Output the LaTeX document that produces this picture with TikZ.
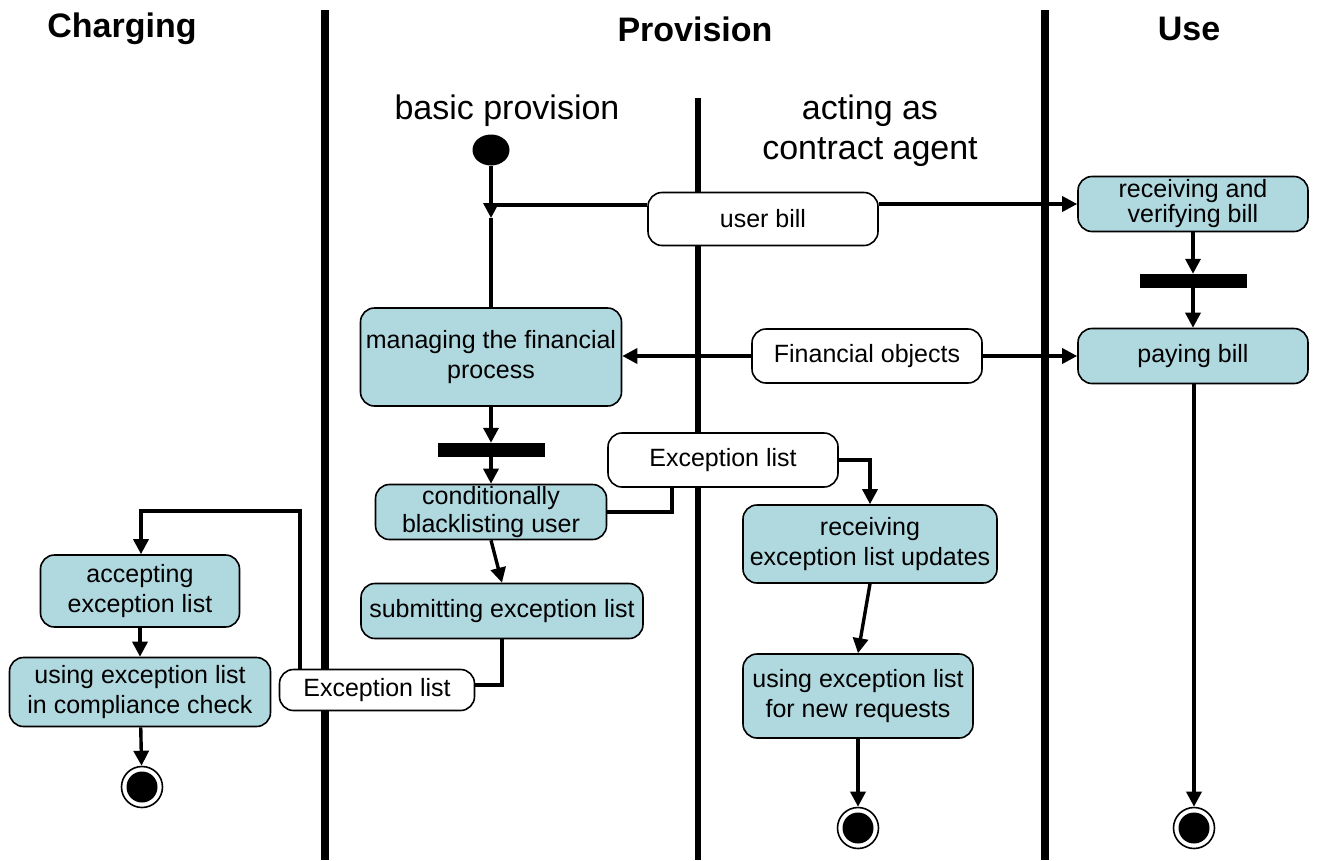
\documentclass[tikz,border=0pt]{standalone}
\usepackage{fontspec}
\setmainfont{Liberation Sans}
\usetikzlibrary{arrows.meta,shapes.geometric,calc}
\definecolor{actblue}{RGB}{176,216,223}
\tikzset{
  act/.style={draw, rounded corners=14pt, fill=actblue, line width=1.6pt, align=center,
    font=\fontsize{25}{30}\selectfont, inner sep=0pt},
  obj/.style={act, fill=white},
  lanebig/.style={line width=8pt},
  lanesmall/.style={line width=6.5pt},
  flow/.style={line width=3.4pt},
  arr/.style={flow, -{Triangle[length=15pt,width=15pt]}},
  initial/.style={ellipse, fill=black, minimum width=37pt, minimum height=31pt, inner sep=0pt},
  final/.style={circle, draw, line width=1.6pt, fill=white, minimum size=41pt, inner sep=0pt,
    path picture={\fill[black] (path picture bounding box.center) circle (15.5pt);}},
  bar/.style={rectangle, fill=black, minimum width=107pt, minimum height=14pt, inner sep=0pt},
  lanehead/.style={font=\fontsize{34}{38}\selectfont\bfseries},
  sublane/.style={font=\fontsize{34}{40}\selectfont, align=center}
}
\begin{document}
\begin{tikzpicture}[x=1pt,y=-1pt]
\useasboundingbox (0,0) rectangle (1318,860);

% swimlane separators
\draw[lanebig] (325,10) -- (325,860);
\draw[lanebig] (1045,10) -- (1045,860);
\draw[lanesmall] (698,98) -- (698,860);

% lane titles
\node[lanehead] (hcharge) at (122,29) {Charging};
\node[lanehead] (hprov) at (695,29) {Provision};
\node[lanehead] (huse) at (1189,29) {Use};
\node[sublane] (hbasic) at (507,111) {basic provision};
\node[sublane] (hagent) at (870,131) {acting as\\contract agent};

% activities and objects
\node[initial] (start) at (491,150) {};
\coordinate (junc) at (491,205);
\coordinate (jtip) at (491,218);
\node[obj, minimum width=230pt, minimum height=53pt] (ubill) at (763,219) {user bill};
\node[act, minimum width=230pt, minimum height=55pt, font=\fontsize{25}{25}\selectfont] (recv) at (1193,204) {receiving and\\verifying bill};
\node[bar] (forkR) at (1193,281) {};
\node[act, minimum width=230pt, minimum height=55pt] (pay) at (1193,356) {paying bill};
\node[act, minimum width=261pt, minimum height=98pt] (manage) at (491,357) {managing the financial\\process};
\node[obj, minimum width=230pt, minimum height=54pt] (fin) at (867,356) {Financial objects};
\node[bar] (forkL) at (491,450) {};
\node[act, minimum width=231pt, minimum height=55pt, font=\fontsize{25}{28}\selectfont] (black) at (491,512) {conditionally\\blacklisting user};
\node[obj, minimum width=230pt, minimum height=54pt] (exc1) at (723,460) {Exception list};
\node[act, minimum width=254pt, minimum height=78pt] (recvexc) at (870,544) {receiving\\exception list updates};
\node[act, minimum width=282pt, minimum height=55pt] (submit) at (502,611) {submitting exception list};
\node[act, minimum width=230pt, minimum height=84pt] (usenew) at (858,696) {using exception list\\for new requests};
\node[obj, minimum width=195pt, minimum height=41pt] (exc2) at (377,690) {Exception list};
\node[act, minimum width=199pt, minimum height=72pt] (accept) at (140,591) {accepting\\exception list};
\node[act, minimum width=261pt, minimum height=69pt] (usecomp) at (140,692) {using exception list\\in compliance check};
\node[final] (endL) at (142,787) {};
\node[final] (endM) at (858,828) {};
\node[final] (endR) at (1194,828) {};

% control and object flows
\draw[arr] (start) -- (jtip);
\draw[flow] (jtip) -- (manage.north);
\draw[flow] (junc) -- (ubill.west |- junc);
\draw[arr] (ubill.east |- recv.west) -- (recv.west);
\draw[arr] (recv) -- (forkR.north);
\draw[arr] (forkR) -- (pay.north);
\draw[arr] (fin.west) -- (manage.east |- fin.west);
\draw[arr] (fin.east) -- (pay.west);
\draw[arr] (pay.south -| endR) -- (endR);
\draw[arr] (manage) -- (forkL.north);
\draw[arr] (forkL) -- (black.north);
\draw[flow] (black.east) -| (672,0 |- exc1.south);
\draw[arr] (exc1.east) -| (recvexc.north);
\draw[arr] (black.south) -- (submit.north);
\draw[arr] (recvexc.south) -- (usenew.north);
\draw[arr] (usenew) -- (endM);
\draw[flow] (submit.south) |- (exc2.east |- 0,685);
\draw[arr] (exc2.north -| 300,0) |- (141,511) -- (accept.north -| 141,0);
\draw[arr] (accept) -- (usecomp.north);
\draw[arr] (usecomp) -- (endL);
\end{tikzpicture}
\end{document}
